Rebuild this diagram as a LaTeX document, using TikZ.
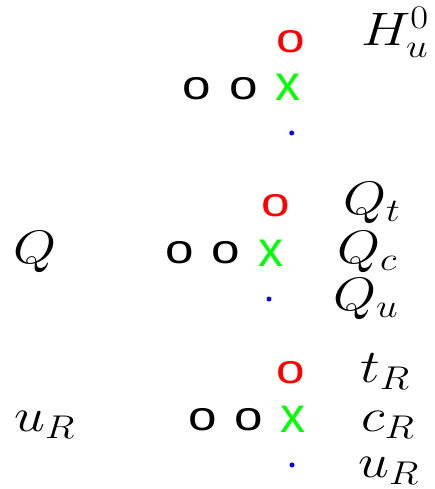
\documentclass[tikz,border=0pt]{standalone}
\usepackage{fix-cm}
\usepackage{fontspec}
\newfontfamily\markfont{Liberation Sans}
\newcommand\wide[1]{\scalebox{1.18}[1]{#1}}
\newcommand\wideo{\scalebox{1.25}[1]{o}}
\begin{document}
\begin{tikzpicture}[x=1pt, y=-1pt,
        lbl/.style={anchor=base west, inner sep=0pt, font=\fontsize{47}{52}\selectfont},
        omark/.style={inner sep=0pt, font=\markfont\fontsize{41}{44}\selectfont},
        xmark/.style={inner sep=0pt, text=green, font=\markfont\fontsize{50}{54}\selectfont},
        bdot/.style={circle, fill=blue, inner sep=0pt, minimum size=5pt}]
    \useasboundingbox (0,0) rectangle (435,489);
    % Higgs
    \node[omark, text=red] (Hred) at (290.8,41.7) {\wideo};
    \node[omark] (Hblk1) at (196.7,89) {\wideo};
    \node[omark] (Hblk2) at (243.3,89) {\wideo};
    \node[xmark] (Hgrn) at (287.5,87.5) {x};
    \node[bdot] (Hblu) at (291.7,133) {};
    \node[lbl] (Hlbl) at (361,46) {\wide{$H_u^0$}};
    % left-handed doublets
    \node[lbl] (Qin) at (13,263) {\wide{$Q$}};
    \node[omark, text=red] (Qred) at (275.3,206) {\wideo};
    \node[omark] (Qblk1) at (180,252.5) {\wideo};
    \node[omark] (Qblk2) at (225.3,252.5) {\wideo};
    \node[xmark] (Qgrn) at (270.5,253) {x};
    \node[bdot] (Qblu) at (269,299) {};
    \node[lbl] (Qt) at (343,214) {\wide{$Q_t$}};
    \node[lbl] (Qc) at (337,263) {\wide{$Q_c$}};
    \node[lbl] (Qu) at (333,310) {\wide{$Q_u$}};
    % right-handed singlets
    \node[lbl] (uin) at (14,431) {\wide{$u_R$}};
    \node[omark, text=red] (ured) at (291,373) {\wideo};
    \node[omark] (ublk1) at (202.3,419.5) {\wideo};
    \node[omark] (ublk2) at (248.3,419.5) {\wideo};
    \node[xmark] (ugrn) at (293.3,419.5) {x};
    \node[bdot] (ublu) at (292,465) {};
    \node[lbl] (tR) at (360,382) {\wide{$t_R$}};
    \node[lbl] (cR) at (361,431) {\wide{$c_R$}};
    \node[lbl] (uR) at (358,477) {\wide{$u_R$}};
\end{tikzpicture}
\end{document}
